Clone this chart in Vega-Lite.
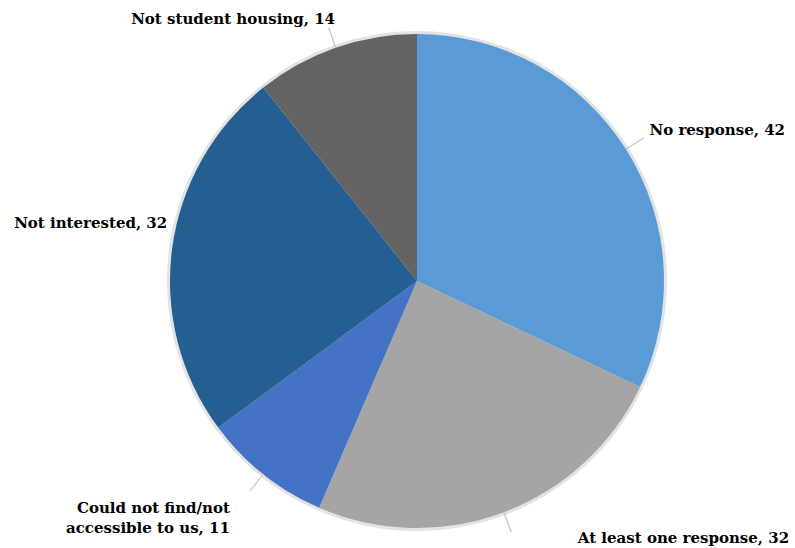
{
  "$schema": "https://vega.github.io/schema/vega-lite/v6.json",
  "width": 756,
  "height": 534,
  "autosize": {"type": "none"},
  "padding": {"left": 39, "top": 14, "right": 0, "bottom": 0},
  "background": "white",
  "config": {"view": {"stroke": null}},
  "data": {
    "values": [
      {"i": 1, "category": "No response", "value": 42, "label": "No response, 42"},
      {"i": 2, "category": "At least one response", "value": 32, "label": "At least one response, 32"},
      {"i": 3, "category": "Could not find/not accessible to us", "value": 11, "label": "Could not find/not\naccessible to us, 11"},
      {"i": 4, "category": "Not interested", "value": 32, "label": "Not interested, 32"},
      {"i": 5, "category": "Not student housing", "value": 14, "label": "Not student housing, 14"}
    ]
  },
  "transform": [
    {"window": [{"op": "sum", "field": "value", "as": "cum"}], "sort": [{"field": "i"}], "frame": [null, 0]},
    {"calculate": "datum.cum - datum.value / 2", "as": "mid"},
    {"calculate": "datum.mid + 0.02", "as": "mid2"}
  ],
  "layer": [
    {
      "mark": {"type": "arc", "radius": 250, "fill": "#b0b0b0", "opacity": 0.35},
      "encoding": {
        "theta": {"field": "value", "type": "quantitative", "stack": true, "scale": {"domain": [0, 131]}},
        "order": {"field": "i"}
      }
    },
    {
      "mark": {"type": "arc", "radius": 247, "stroke": null},
      "encoding": {
        "theta": {"field": "value", "type": "quantitative", "stack": true, "scale": {"domain": [0, 131]}},
        "order": {"field": "i"},
        "color": {
          "field": "category",
          "type": "nominal",
          "sort": null,
          "legend": null,
          "scale": {
            "domain": ["No response", "At least one response", "Could not find/not accessible to us", "Not interested", "Not student housing"],
            "range": ["#5B9BD5", "#A5A5A5", "#4472C4", "#255E91", "#636363"]
          }
        }
      }
    },
    {
      "transform": [{"filter": "datum.i != 4"}],
      "mark": {"type": "arc", "radius": 247, "radius2": 268, "fill": null, "stroke": "#BFBFBF", "strokeWidth": 0.8},
      "encoding": {
        "theta": {"field": "mid", "type": "quantitative", "stack": null, "scale": {"domain": [0, 131]}},
        "theta2": {"field": "mid2"}
      }
    },
    {
      "transform": [{"filter": "datum.i == 1"}],
      "mark": {"type": "text", "radius": 275, "align": "left", "baseline": "middle", "dy": -4, "font": "DejaVu Serif", "fontWeight": "bold", "fontSize": 15, "color": "#000000"},
      "encoding": {
        "theta": {"field": "mid", "type": "quantitative", "stack": null, "scale": {"domain": [0, 131]}},
        "text": {"field": "label"}
      }
    },
    {
      "transform": [{"filter": "datum.i == 2"}],
      "mark": {"type": "text", "radius": 275, "align": "left", "baseline": "middle", "dx": 64, "dy": 0, "font": "DejaVu Serif", "fontWeight": "bold", "fontSize": 15, "color": "#000000"},
      "encoding": {
        "theta": {"field": "mid", "type": "quantitative", "stack": null, "scale": {"domain": [0, 131]}},
        "text": {"field": "label"}
      }
    },
    {
      "transform": [{"filter": "datum.i == 3"}],
      "mark": {"type": "text", "radius": 275, "align": "right", "baseline": "top", "dx": -16, "dy": 5, "lineBreak": "\n", "lineHeight": 20, "font": "DejaVu Serif", "fontWeight": "bold", "fontSize": 15, "color": "#000000"},
      "encoding": {
        "theta": {"field": "mid", "type": "quantitative", "stack": null, "scale": {"domain": [0, 131]}},
        "text": {"field": "label"}
      }
    },
    {
      "transform": [{"filter": "datum.i == 4"}],
      "mark": {"type": "text", "radius": 260, "align": "right", "baseline": "middle", "dx": 8, "dy": -24, "font": "DejaVu Serif", "fontWeight": "bold", "fontSize": 15, "color": "#000000"},
      "encoding": {
        "theta": {"field": "mid", "type": "quantitative", "stack": null, "scale": {"domain": [0, 131]}},
        "text": {"field": "label"}
      }
    },
    {
      "transform": [{"filter": "datum.i == 5"}],
      "mark": {"type": "text", "radius": 270, "align": "right", "baseline": "middle", "dx": 7, "dy": -7, "font": "DejaVu Serif", "fontWeight": "bold", "fontSize": 15, "color": "#000000"},
      "encoding": {
        "theta": {"field": "mid", "type": "quantitative", "stack": null, "scale": {"domain": [0, 131]}},
        "text": {"field": "label"}
      }
    }
  ]
}
